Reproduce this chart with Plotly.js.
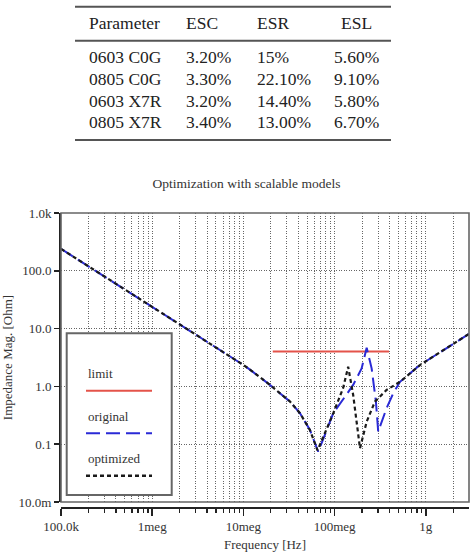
<!DOCTYPE html>
<html><head><meta charset="utf-8">
<script src="https://cdn.plot.ly/plotly-3.0.1.min.js"></script>
<style>html,body{margin:0;padding:0;background:#fff}#chart{width:475px;height:553px}</style>
</head><body><div id="chart"></div>
<script>
// ---- table data ----
const tableHeader = ["Parameter", "ESC", "ESR", "ESL"];
const tableRowNames = ["0603 C0G", "0805 C0G", "0603 X7R", "0805 X7R"];
const escValues = ["3.20%", "3.30%", "3.20%", "3.40%"];
const esrValues = ["15%", "22.10%", "14.40%", "13.00%"];
const eslValues = ["5.60%", "9.10%", "5.80%", "6.70%"];

// ---- chart data (frequency in Hz, impedance in Ohm) ----
const limitFreq = [2.1e7, 3.95e8];
const limitZ = [4, 4];

const originalFreq = [1e5, 1e6, 1e7, 1.18e7, 1.96e7, 3.25e7, 4.18e7, 5.37e7, 6.62e7, 9.68e7, 1.6e8, 1.98e8, 2.25e8, 2.55e8, 2.84e8, 3.01e8, 3.72e8, 4.4e8, 5.22e8, 8.63e8, 1.92e9, 2.98e9];
const originalZ    = [240, 24, 2.35, 1.95, 1.06, 0.545, 0.343, 0.176, 0.074, 0.343, 1.06, 2.05, 4.66, 2.05, 0.545, 0.165, 0.42, 0.76, 1.2, 2.34, 5.2, 8.1];

const optimizedFreq = [1e5, 1e6, 1e7, 1.18e7, 1.96e7, 3.25e7, 4.18e7, 5.37e7, 6.5e7, 9.68e7, 1.24e8, 1.41e8, 1.6e8, 1.82e8, 1.9e8, 2.25e8, 2.77e8, 3.72e8, 5.22e8, 8.63e8, 1.92e9, 2.98e9];
const optimizedZ    = [240, 24, 2.35, 1.95, 1.06, 0.545, 0.343, 0.176, 0.078, 0.343, 0.93, 2.19, 0.71, 0.145, 0.085, 0.245, 0.545, 0.87, 1.2, 2.34, 5.2, 8.1];

const xTickVals = [1e5, 1e6, 1e7, 1e8, 1e9];
const xTickText = ["100.0k", "1meg", "10meg", "100meg", "1g"];
const yTickVals = [0.01, 0.1, 1, 10, 100, 1000];
const yTickText = ["10.0m", "0.1", "1.0", "10.0", "100.0", "1.0k"];
const legendLabels = ["limit", "original", "optimized"];

// ---- styles ----
const FONT = "Liberation Serif, Times New Roman, serif";
const RED = "#e4534a", BLUE = "#2a2ad6", BLACK = "#1a1a1a";
const BLUE_DASH = "14px,6px", BLACK_DASH = "4px,3px";

const W = 475, H = 553;
const M = {l: 59, r: 6, t: 213, b: 46};
const PW = W - M.l - M.r, PH = H - M.t - M.b;
const px = x => (x - M.l) / PW;
const py = y => (H - M.b - y) / PH;

// minor tick positions on x (2..9 per decade)
const xMinor = [];
for (let d = 5; d <= 9; d++) for (let k = 2; k <= 9; k++) { const v = k * Math.pow(10, d); if (v < 3e9) xMinor.push(v); }

const traces = [
  {x: limitFreq, y: limitZ, mode: "lines", line: {color: RED, width: 2}, hoverinfo: "skip"},
  {x: originalFreq, y: originalZ, mode: "lines", line: {color: BLUE, width: 2, dash: BLUE_DASH}, hoverinfo: "skip"},
  {x: optimizedFreq, y: optimizedZ, mode: "lines", line: {color: BLACK, width: 2.2, dash: BLACK_DASH}, hoverinfo: "skip"}
];

const annotations = [];
const shapes = [];
const tFont = {family: FONT, size: 17.5, color: "#222"};
const colX = [87, 184, 255, 356];
const colAnchor = ["left", "left", "left", "center"];
const headerY = 23;
const rowY = [57.3, 79.3, 100.7, 122.3];
tableHeader.forEach((h, i) => annotations.push({text: h, xref: "paper", yref: "paper", x: px(colX[i]), y: py(headerY), xanchor: colAnchor[i], yanchor: "middle", showarrow: false, font: tFont}));
tableRowNames.forEach((name, r) => {
  const vals = [name, escValues[r], esrValues[r], eslValues[r]];
  vals.forEach((v, i) => annotations.push({text: v, xref: "paper", yref: "paper", x: px(colX[i]), y: py(rowY[r]), xanchor: colAnchor[i], yanchor: "middle", showarrow: false, font: tFont}));
});
[6.7, 40.7, 140].forEach(yy => shapes.push({type: "line", xref: "paper", yref: "paper", x0: px(75), x1: px(391), y0: py(yy), y1: py(yy), line: {color: "#555", width: 2}}));

// plot border
shapes.push({type: "rect", xref: "paper", yref: "paper", x0: px(61), x1: 1, y0: py(502), y1: 1, line: {color: "#666", width: 1.6}, layer: "above"});

// legend box
shapes.push({type: "rect", xref: "paper", yref: "paper", x0: px(66.7), x1: px(171.7), y0: py(495), y1: py(333.3), fillcolor: "#fff", line: {color: "#666", width: 2}, layer: "above"});
const legY = [373, 416, 458.3];
const legLineY = [390.7, 433.3, 475.7];
const legStyles = [{color: RED, width: 2}, {color: BLUE, width: 2, dash: BLUE_DASH}, {color: BLACK, width: 2.4, dash: BLACK_DASH}];
legendLabels.forEach((lab, i) => {
  annotations.push({text: lab, xref: "paper", yref: "paper", x: px(86), y: py(legY[i]), xanchor: "left", yanchor: "middle", showarrow: false, font: {family: FONT, size: 13, color: "#333"}});
  shapes.push({type: "line", xref: "paper", yref: "paper", x0: px(86), x1: px(152), y0: py(legLineY[i]), y1: py(legLineY[i]), line: legStyles[i], layer: "above"});
});

const gridStyle = {gridcolor: "#666", gridwidth: 1, griddash: "1px,1.5px"};
const layout = {
  width: W, height: H,
  margin: M,
  paper_bgcolor: "#fff", plot_bgcolor: "#fff",
  showlegend: false,
  font: {family: FONT, size: 13, color: "#333"},
  title: {text: "Optimization with scalable models", font: {family: FONT, size: 13.5, color: "#333"}, xref: "container", yref: "container", x: 246.5 / W, y: 1 - 183 / H, xanchor: "center", yanchor: "middle"},
  xaxis: {
    type: "log", range: [5, Math.log10(2.98e9)], domain: [px(61), 1], anchor: "free", position: 0,
    tickmode: "array", tickvals: xTickVals, ticktext: xTickText,
    ticks: "outside", ticklen: 7, tickwidth: 1.5, tickcolor: "#222",
    showline: true, linecolor: "#222", linewidth: 1.5,
    showgrid: true, ...gridStyle, zeroline: false,
    minor: {tickmode: "array", tickvals: xMinor, ticks: "outside", ticklen: 4, tickwidth: 1.2, tickcolor: "#222", showgrid: true, ...gridStyle},
    title: {text: "Frequency [Hz]", font: {family: FONT, size: 13, color: "#333"}, standoff: 7},
    automargin: false, fixedrange: true
  },
  yaxis: {
    type: "log", range: [-2, 3], domain: [py(502), 1], anchor: "free", position: 0,
    tickmode: "array", tickvals: yTickVals, ticktext: yTickText,
    ticks: "outside", ticklen: 5, tickwidth: 1.5, tickcolor: "#222",
    showline: true, linecolor: "#222", linewidth: 1.5,
    showgrid: true, ...gridStyle, zeroline: false,
    title: {text: "Impedance Mag. [Ohm]", font: {family: FONT, size: 13, color: "#333"}, standoff: 6},
    automargin: false, fixedrange: true
  },
  annotations: annotations,
  shapes: shapes
};

Plotly.newPlot("chart", traces, layout, {staticPlot: true, displayModeBar: false});
</script>
</body></html>
